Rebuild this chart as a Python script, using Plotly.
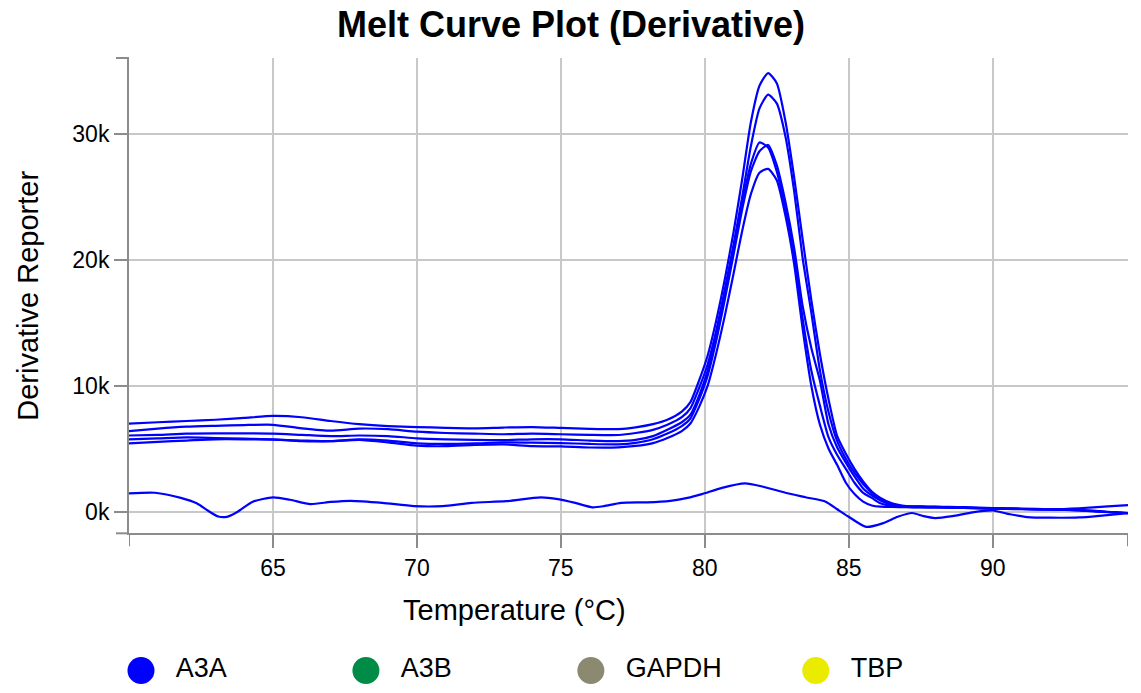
import plotly.graph_objects as go

# ---------------- data (values in thousands of reporter units) ----------------
temps = [60, 61, 62, 63, 64, 65, 66, 67, 68, 69, 70, 71, 72, 73, 74, 75, 76, 77,
         77.6, 78.2, 78.7,
         79.2, 79.5, 79.8, 80.1, 80.4, 80.7, 81.0, 81.3, 81.6, 81.9, 82.2, 82.5,
         82.8, 83.1, 83.4, 83.7, 84.0, 84.3, 84.6, 84.9, 85.2, 85.5, 85.8, 86.1,
         86.5, 87, 87.5, 88, 88.5, 89, 90, 90.5, 91, 92, 93, 94, 94.7]

a3a_well1 = [7.0, 7.1, 7.2, 7.3, 7.45, 7.6, 7.5, 7.2, 6.95, 6.8, 6.72, 6.66, 6.62, 6.68, 6.72, 6.65, 6.58, 6.56,
             6.7, 6.95, 7.3,
             7.95, 8.7, 10.4, 12.4, 15.2, 18.5, 22.2, 26.4, 30.9, 33.8, 34.8, 34.0,
             31.0, 26.6, 21.6, 16.8, 12.5, 8.9, 6.0, 4.6, 3.4, 2.4, 1.6, 1.1,
             0.67, 0.45, 0.42, 0.4, 0.38, 0.36, 0.3, 0.28, 0.25, 0.2, 0.15, 0.0, -0.1]

a3a_well2 = [6.4, 6.6, 6.75, 6.82, 6.88, 6.9, 6.62, 6.43, 6.6, 6.55, 6.35, 6.25, 6.2, 6.15, 6.2, 6.15, 6.1, 6.09,
             6.25, 6.5, 6.9,
             7.5, 8.2, 9.8, 11.7, 14.4, 17.7, 21.2, 25.0, 29.0, 32.0, 33.1, 32.4,
             29.8, 25.5, 20.1, 15.8, 11.2, 7.9, 5.6, 4.2, 3.1, 2.2, 1.5, 1.0,
             0.62, 0.4, 0.38, 0.36, 0.34, 0.32, 0.28, 0.26, 0.22, 0.18, 0.12, -0.02, -0.12]

a3a_well3 = [6.05, 6.1, 6.2, 6.22, 6.22, 6.2, 6.1, 6.0, 6.05, 6.0, 5.83, 5.75, 5.7, 5.68, 5.75, 5.75, 5.65, 5.6,
             5.7, 6.0, 6.5,
             7.1, 7.7, 9.2, 11.2, 14.0, 17.3, 20.9, 24.5, 27.6, 29.3, 28.9, 27.0,
             24.0, 20.3, 15.3, 11.2, 8.4, 5.9, 4.5, 3.4, 2.3, 1.5, 1.1, 0.67,
             0.45, 0.38, 0.36, 0.35, 0.33, 0.3, 0.25, 0.22, 0.2, 0.2, 0.28, 0.42, 0.53]

a3a_well4 = [5.75, 5.82, 5.9, 5.85, 5.8, 5.75, 5.6, 5.6, 5.75, 5.65, 5.43, 5.38, 5.42, 5.5, 5.48, 5.45, 5.38, 5.35,
             5.47, 5.75, 6.2,
             6.8, 7.4, 8.9, 10.8, 13.6, 16.9, 20.4, 24.0, 27.0, 28.6, 29.1, 27.5,
             24.6, 21.0, 16.3, 13.0, 10.4, 6.9, 5.1, 3.9, 2.8, 1.85, 1.3, 0.9,
             0.55, 0.42, 0.4, 0.38, 0.35, 0.33, 0.27, 0.25, 0.22, 0.17, 0.1, -0.03, -0.1]

a3a_well5 = [5.43, 5.55, 5.65, 5.75, 5.75, 5.72, 5.65, 5.6, 5.7, 5.5, 5.24, 5.2, 5.3, 5.35, 5.2, 5.18, 5.1, 5.11,
             5.22, 5.45, 5.85,
             6.4, 7.0, 8.3, 10.0, 12.6, 15.6, 18.9, 22.3, 25.2, 26.9, 27.2, 26.3,
             23.5, 19.7, 14.5, 10.0, 6.9, 5.0, 3.7, 2.3, 1.4, 0.8, 0.5, 0.4,
             0.38, 0.36, 0.35, 0.34, 0.33, 0.3, 0.26, 0.24, 0.22, 0.18, 0.12, -0.02, -0.12]

temps_blank = [60, 60.9, 61.8, 62.35, 62.8, 63.1, 63.4, 63.7, 64.3, 65.0, 65.6, 66.3, 67.0, 67.7,
               68.8, 69.9, 70.9, 71.9, 73.1, 74.3, 74.9, 75.5, 76.1, 76.5, 77.1, 78.0, 78.8,
               79.4, 79.9, 80.6, 81.4, 82.0, 82.8, 83.5, 84.2, 84.6, 85.0, 85.6, 86.2, 86.7,
               87.2, 87.6, 88.0, 88.6, 89.3, 90.0, 90.6, 91.2, 92.0, 93.0, 93.8, 94.7]
a3a_blank = [1.46, 1.51, 1.1, 0.67, 0.0, -0.38, -0.4, -0.1, 0.8, 1.14, 0.95, 0.61, 0.78, 0.87,
             0.71, 0.45, 0.45, 0.71, 0.84, 1.14, 1.0, 0.7, 0.35, 0.45, 0.71, 0.75, 0.87,
             1.1, 1.4, 1.9, 2.25, 2.0, 1.51, 1.15, 0.8, 0.2, -0.4, -1.2, -0.9, -0.4,
             -0.1, -0.35, -0.5, -0.35, -0.05, 0.1, -0.2, -0.42, -0.47, -0.45, -0.3, -0.1]

a3a_series = [a3a_well1, a3a_well2, a3a_well3, a3a_well4, a3a_well5]

x_tick_vals = [65, 70, 75, 80, 85, 90]
y_tick_vals = [0, 10, 20, 30]
y_tick_text = ["0k", "10k", "20k", "30k"]

legend_names = ["A3A", "A3B", "GAPDH", "TBP"]
legend_colors = ["#0000ff", "#008c46", "#8b8a70", "#ebeb00"]

# ---------------- styling ----------------
FONT = "Liberation Sans, Arial, Helvetica, sans-serif"
AXIS_GRAY = "#8c8c8c"
GRID_GRAY = "#c8c8c8"
LINE_BLUE = "#0000ff"

W, H = 1141, 693

fig = go.Figure()

for vals in a3a_series:
    fig.add_trace(go.Scatter(
        x=temps, y=vals, mode="lines",
        line=dict(color=LINE_BLUE, width=2.2, shape="spline", smoothing=0.6),
        xaxis="x", yaxis="y", showlegend=False, hoverinfo="skip"))

fig.add_trace(go.Scatter(
    x=temps_blank, y=a3a_blank, mode="lines",
    line=dict(color=LINE_BLUE, width=2.2, shape="spline", smoothing=0.6),
    xaxis="x", yaxis="y", showlegend=False, hoverinfo="skip"))

# custom legend drawn on its own small axis pair
legend_idx = list(range(len(legend_names)))
fig.add_trace(go.Scatter(
    x=legend_idx, y=[0] * len(legend_idx), mode="markers",
    marker=dict(size=27, color=legend_colors, line=dict(width=0)),
    xaxis="x2", yaxis="y2", showlegend=False, hoverinfo="skip", cliponaxis=False))
fig.add_trace(go.Scatter(
    x=[i + 0.155 for i in legend_idx], y=[0] * len(legend_idx), mode="text",
    text=legend_names, textposition="middle right",
    textfont=dict(family=FONT, size=27, color="black"),
    xaxis="x2", yaxis="y2", showlegend=False, hoverinfo="skip", cliponaxis=False))

axis_common = dict(
    showgrid=True, gridcolor=GRID_GRAY, gridwidth=1.5,
    showline=True, linecolor=AXIS_GRAY, linewidth=2,
    ticks="outside", ticklen=13, tickwidth=2, tickcolor=AXIS_GRAY,
    tickfont=dict(family=FONT, size=23, color="black"),
    zeroline=False, fixedrange=True,
)

tick_len = 13
shapes = [
    # outer ticks at ends of the x axis
    dict(type="line", xref="x", x0=60, x1=60, yref="y domain", ysizemode="pixel",
         yanchor=0, y0=0, y1=-tick_len, line=dict(color=AXIS_GRAY, width=2)),
    dict(type="line", xref="x", x0=94.7, x1=94.7, yref="y domain", ysizemode="pixel",
         yanchor=0, y0=0, y1=-tick_len, line=dict(color=AXIS_GRAY, width=2)),
    # outer ticks at ends of the y axis
    dict(type="line", yref="y domain", y0=1, y1=1, xref="x domain", xsizemode="pixel",
         xanchor=0, x0=-tick_len, x1=0, line=dict(color=AXIS_GRAY, width=2)),
    dict(type="line", yref="y domain", y0=0, y1=0, xref="x domain", xsizemode="pixel",
         xanchor=0, x0=-tick_len, x1=0, line=dict(color=AXIS_GRAY, width=2)),
]

fig.update_layout(
    width=W, height=H,
    margin=dict(l=129, r=13, t=58, b=10),
    paper_bgcolor="white", plot_bgcolor="white",
    showlegend=False,
    font=dict(family=FONT, color="black"),
    title=dict(text="<b>Melt Curve Plot (Derivative)</b>",
               font=dict(family=FONT, size=36, color="black"),
               x=571 / W, xref="container", xanchor="center",
               y=1 - 24 / H, yref="container", yanchor="middle"),
    xaxis=dict(domain=[0, 1], anchor="y", range=[60, 94.7],
               tickvals=x_tick_vals, **axis_common),
    yaxis=dict(domain=[0.2395, 1], anchor="x", range=[-1.71, 36.0],
               tickvals=y_tick_vals, ticktext=y_tick_text, **axis_common),
    xaxis2=dict(domain=[0, 1], anchor="y2", range=[-0.0533, 4.388],
                visible=False, fixedrange=True),
    yaxis2=dict(domain=[0, 0.04], anchor="x2", range=[-1, 1],
                visible=False, fixedrange=True),
    shapes=shapes,
    annotations=[
        dict(text="Temperature (°C)", xref="paper", yref="paper",
             x=0.386, y=-0.161 * 0.7605 + 0.2395, xanchor="center", yanchor="middle",
             showarrow=False, font=dict(family=FONT, size=29, color="black")),
        dict(text="Derivative Reporter", xref="paper", yref="paper",
             x=-0.101, y=0.2395 + 0.5 * 0.7605, xanchor="center", yanchor="middle",
             textangle=-90, showarrow=False,
             font=dict(family=FONT, size=29, color="black")),
    ],
)

# remove the default page margin so the figure fills the window exactly
fig.write_html("out.html", config={"displayModeBar": False},
               post_script="document.body.style.margin='0px';")
